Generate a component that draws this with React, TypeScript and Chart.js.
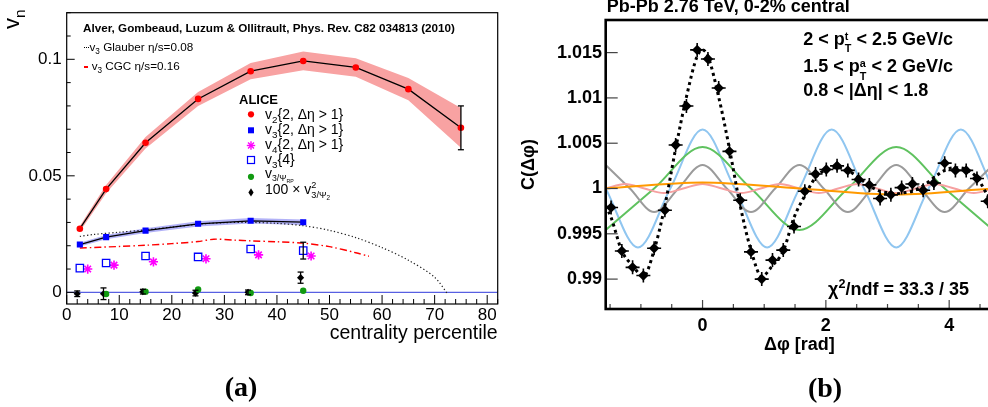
import React, { useEffect, useRef } from 'react';
import { Chart, registerables } from 'chart.js';

Chart.register(...registerables);

const SANS = "'Liberation Sans', Arial, Helvetica, sans-serif";
const SERIF = "'Liberation Serif', 'Times New Roman', Times, serif";

// ---------------- Panel (a): flow coefficients vs centrality ----------------
const v2Cent = [2.5, 7.5, 15, 25, 35, 45, 55, 65, 75];
const v2Val = [0.0273, 0.0443, 0.0642, 0.083, 0.0949, 0.0993, 0.0965, 0.0872, 0.0706];
const v2Sys = [0.0012, 0.0018, 0.0025, 0.003, 0.0035, 0.004, 0.004, 0.0048, 0.0085];
const v2Stat = [0, 0, 0, 0, 0, 0, 0, 0, 0.0094];

const v3Cent = [2.5, 7.5, 15, 25, 35, 45];
const v3Val = [0.0205, 0.0237, 0.0265, 0.0294, 0.0307, 0.0301];
const v3Sys = [0.0008, 0.0009, 0.001, 0.0011, 0.0012, 0.0012];

const v3c4Val = [0.0104, 0.0126, 0.0156, 0.0152, 0.0186, 0.0179];
const v3c4Stat = [0, 0, 0, 0, 0, 0.0036];

const v4Cent = [4, 9, 16.5, 26.5, 36.5, 46.5];
const v4Val = [0.01, 0.0117, 0.0131, 0.0144, 0.0161, 0.0156];

const v3RPCent = [7.5, 15, 25, 35, 45];
const v3RPVal = [-0.0007, 0.0003, 0.0012, -0.0003, 0.0007];

const v3PsiCent = [2, 7, 14.5, 24.5, 34.5, 44.5];
const v3PsiVal = [-0.0006, -0.0006, 0.0003, -0.0003, 0.0, 0.0063];
const v3PsiStat = [0.0012, 0.0025, 0.001, 0.0012, 0.001, 0.0024];

const glauberCent = [2.5, 5, 10, 15, 20, 25, 30, 35, 40, 45, 50, 55, 60, 65, 70, 72.5];
const glauberVal = [0.024, 0.0248, 0.0258, 0.0268, 0.028, 0.0292, 0.0299, 0.03, 0.0296, 0.0286, 0.0266, 0.0235, 0.0192, 0.0138, 0.0065, -0.0008];

const cgcCent = [2.5, 10, 15, 20, 25, 28, 32, 35, 40, 45, 50, 55, 57.5];
const cgcVal = [0.019, 0.0197, 0.0202, 0.0209, 0.0218, 0.0228, 0.0224, 0.0221, 0.0217, 0.0211, 0.0196, 0.017, 0.0155];

const leftXRange = [0, 82];
const leftYRange = [-0.005, 0.12];
const leftXTicks = [0, 10, 20, 30, 40, 50, 60, 70, 80];
const leftXTickLabels = ['0', '10', '20', '30', '40', '50', '60', '70', '80'];
const leftYTicks = [0, 0.05, 0.1];
const leftYTickLabels = ['0', '0.05', '0.1'];

// ---------------- Panel (b): two-particle correlation ----------------
const dphi = [-1.4835, -1.309, -1.1345, -0.9599, -0.7854, -0.6109, -0.4363, -0.2618, -0.0873, 0.0873, 0.2618, 0.4363, 0.6109, 0.7854, 0.9599, 1.1345, 1.309, 1.4835, 1.6581, 1.8326, 2.0071, 2.1817, 2.3562, 2.5307, 2.7053, 2.8798, 3.0543, 3.2289, 3.4034, 3.5779, 3.7525, 3.927, 4.1015, 4.2761, 4.4506, 4.6251];
const corr = [0.9979, 0.9931, 0.9913, 0.9904, 0.9934, 0.9976, 1.0048, 1.0091, 1.0153, 1.0143, 1.0111, 1.0041, 0.9987, 0.993, 0.99, 0.9921, 0.9932, 0.9958, 0.9997, 1.0016, 1.0021, 1.0025, 1.002, 1.001, 1.0004, 0.9989, 0.9993, 1.0001, 1.0005, 0.9998, 1.0006, 1.0028, 1.002, 1.002, 1.0011, 0.9986];

const fitX = [-1.5708, -1.4835, -1.309, -1.1345, -0.9599, -0.7854, -0.6109, -0.4363, -0.2618, -0.0873, 0, 0.0873, 0.2618, 0.4363, 0.6109, 0.7854, 0.9599, 1.1345, 1.309, 1.4835, 1.6581, 1.8326, 2.0071, 2.1817, 2.3562, 2.5307, 2.7053, 2.8798, 3.0543, 3.1416, 3.2289, 3.4034, 3.5779, 3.7525, 3.927, 4.1015, 4.2761, 4.4506, 4.6251, 4.7124];
const fitY = [0.9981, 0.9968, 0.9931, 0.9915, 0.9903, 0.9932, 0.9981, 1.0044, 1.0101, 1.0146, 1.0153, 1.0146, 1.0101, 1.0044, 0.9981, 0.9932, 0.9903, 0.9915, 0.9931, 0.9968, 0.9992, 1.0012, 1.0021, 1.0023, 1.002, 1.0012, 1.0003, 0.9997, 0.9995, 0.9994, 0.9995, 0.9997, 1.0003, 1.0012, 1.002, 1.0023, 1.0021, 1.0012, 0.9992, 0.9981];

// Fourier components, read at their maxima / zero crossings / minima
const h1X = [-1.5708, 0, 1.5708, 3.1416, 4.7124];
const h1Y = [1, 1.00066, 1, 0.99934, 1];
const h2X = [-1.5708, -0.7854, 0, 0.7854, 1.5708, 2.3562, 3.1416, 3.927, 4.7124];
const h2Y = [0.99543, 1, 1.00457, 1, 0.99543, 1, 1.00457, 1, 0.99543];
const h3X = [-1.5708, -1.0472, -0.5236, 0, 0.5236, 1.0472, 1.5708, 2.0944, 2.618, 3.1416, 3.6652, 4.1888, 4.7124];
const h3Y = [1, 0.9935, 1, 1.0065, 1, 0.9935, 1, 1.0065, 1, 0.9935, 1, 1.0065, 1];
const h4X = [-1.5708, -1.1781, -0.7854, -0.3927, 0, 0.3927, 0.7854, 1.1781, 1.5708, 1.9635, 2.3562, 2.7489, 3.1416, 3.5343, 3.927, 4.3197, 4.7124];
const h4Y = [1.0026, 1, 0.9974, 1, 1.0026, 1, 0.9974, 1, 1.0026, 1, 0.9974, 1, 1.0026, 1, 0.9974, 1, 1.0026];
const h5X = [-1.5708, -1.2566, -0.9425, -0.6283, -0.3142, 0, 0.3142, 0.6283, 0.9425, 1.2566, 1.5708, 1.885, 2.1991, 2.5133, 2.8274, 3.1416, 3.4558, 3.7699, 4.0841, 4.3982, 4.7124];
const h5Y = [1, 1.0005, 1, 0.9995, 1, 1.0005, 1, 0.9995, 1, 1.0005, 1, 0.9995, 1, 1.0005, 1, 0.9995, 1, 1.0005, 1, 0.9995, 1];

const rightXRange = [-1.5708, 4.7124];
const rightYRange = [0.9867, 1.0186];
const rightXTicks = [0, 2, 4];
const rightXTickLabels = ['0', '2', '4'];
const rightYTicks = [0.99, 0.995, 1, 1.005, 1.01, 1.015];
const rightYTickLabels = ['0.99', '0.995', '1', '1.005', '1.01', '1.015'];

// ---------------- helpers ----------------
const pts = (xs: number[], ys: number[]) => xs.map((x, i) => ({ x, y: ys[i] }));

function fixedAxis(size: number, horizontal: boolean) {
  return (s: any) => {
    if (horizontal) s.height = size;
    else s.width = size;
    s.paddingLeft = 0;
    s.paddingRight = 0;
    s.paddingTop = 0;
    s.paddingBottom = 0;
  };
}

function line(ctx: CanvasRenderingContext2D, x1: number, y1: number, x2: number, y2: number) {
  ctx.beginPath();
  ctx.moveTo(x1, y1);
  ctx.lineTo(x2, y2);
  ctx.stroke();
}

const errorBarPlugin = {
  id: 'errorBars',
  afterDatasetsDraw(chart: any) {
    const ctx = chart.ctx as CanvasRenderingContext2D;
    const ys = chart.scales.y;
    chart.data.datasets.forEach((ds: any, di: number) => {
      if (!ds.errorBars) return;
      const meta = chart.getDatasetMeta(di);
      ds.data.forEach((p: any, i: number) => {
        const e = ds.errorBars[i];
        if (!e) return;
        const x = meta.data[i].x;
        const y1 = ys.getPixelForValue(p.y - e);
        const y2 = ys.getPixelForValue(p.y + e);
        ctx.save();
        ctx.strokeStyle = '#000';
        ctx.lineWidth = 1.3;
        line(ctx, x, y1, x, y2);
        line(ctx, x - 3, y1, x + 3, y1);
        line(ctx, x - 3, y2, x + 3, y2);
        ctx.restore();
      });
    });
  },
};

function drawMarker(ctx: CanvasRenderingContext2D, kind: string, x: number, y: number) {
  ctx.save();
  if (kind === 'dotRed' || kind === 'dotGreen') {
    ctx.fillStyle = kind === 'dotRed' ? '#ff0000' : '#119a11';
    ctx.beginPath();
    ctx.arc(x, y, 3.1, 0, Math.PI * 2);
    ctx.fill();
  } else if (kind === 'sqBlue') {
    ctx.fillStyle = '#0000ff';
    ctx.fillRect(x - 3, y - 3, 6, 6);
  } else if (kind === 'sqOpen') {
    ctx.strokeStyle = '#0000ff';
    ctx.lineWidth = 1.2;
    ctx.strokeRect(x - 3.5, y - 3.5, 7, 7);
  } else if (kind === 'star') {
    ctx.strokeStyle = '#ff00ff';
    ctx.lineWidth = 1.4;
    const r = 4.2;
    const d = r * Math.SQRT1_2;
    line(ctx, x - r, y, x + r, y);
    line(ctx, x, y - r, x, y + r);
    line(ctx, x - d, y - d, x + d, y + d);
    line(ctx, x - d, y + d, x + d, y - d);
  } else if (kind === 'diamond') {
    ctx.fillStyle = '#000';
    ctx.beginPath();
    ctx.moveTo(x, y - 4.2);
    ctx.lineTo(x + 2.6, y);
    ctx.lineTo(x, y + 4.2);
    ctx.lineTo(x - 2.6, y);
    ctx.closePath();
    ctx.fill();
  }
  ctx.restore();
}

const leftDeco = {
  id: 'leftDeco',
  afterDraw(chart: any) {
    const ctx = chart.ctx as CanvasRenderingContext2D;
    const { left, right, top, bottom } = chart.chartArea;
    const x = chart.scales.x;
    const y = chart.scales.y;
    ctx.save();
    ctx.strokeStyle = '#000';
    ctx.lineWidth = 1;
    for (let v = 0; v <= 82; v += 2) {
      const px = x.getPixelForValue(v);
      const len = v % 10 === 0 ? 9 : 5;
      line(ctx, px, bottom, px, bottom - len);
    }
    for (let k = 0; k <= 12; k++) {
      const v = k / 100;
      const py = y.getPixelForValue(v);
      const len = k % 5 === 0 ? 8 : 4;
      line(ctx, left, py, left + len, py);
    }
    ctx.lineWidth = 1.2;
    ctx.strokeRect(left, top, right - left, bottom - top);
    ctx.restore();
    const legendMarkers: [string, number][] = [
      ['dotRed', 114.3],
      ['sqBlue', 130.3],
      ['star', 145.5],
      ['sqOpen', 160],
      ['dotGreen', 176.8],
      ['diamond', 192.4],
    ];
    legendMarkers.forEach(([k, yy]) => drawMarker(ctx, k, 251, yy));
  },
};

const rightDeco = {
  id: 'rightDeco',
  afterDraw(chart: any) {
    const ctx = chart.ctx as CanvasRenderingContext2D;
    const { left, right, top, bottom } = chart.chartArea;
    const x = chart.scales.x;
    const y = chart.scales.y;
    ctx.save();
    ctx.strokeStyle = '#444';
    ctx.lineWidth = 1.2;
    rightYTicks.forEach((v) => {
      const py = y.getPixelForValue(v);
      line(ctx, left, py, left + 12, py);
    });
    for (let k = -3; k <= 9; k++) {
      const v = k / 2;
      const px = x.getPixelForValue(v);
      const len = k % 4 === 0 ? 9 : 5;
      line(ctx, px, bottom, px, bottom - len);
    }
    ctx.strokeStyle = '#000';
    ctx.lineWidth = 2.6;
    ctx.strokeRect(left, top, right - left, bottom - top);
    ctx.restore();
  },
};

function buildLeft(): any {
  const hiV2 = v2Val.map((v, i) => v + v2Sys[i]);
  const loV2 = v2Val.map((v, i) => v - v2Sys[i]);
  const hiV3 = v3Val.map((v, i) => v + v3Sys[i]);
  const loV3 = v3Val.map((v, i) => v - v3Sys[i]);
  const tickFont = { family: SANS, size: 17 };
  return {
    type: 'line',
    data: {
      datasets: [
        { label: 'zero', data: pts(leftXRange, [0, 0]), borderColor: 'rgb(88,96,226)', borderWidth: 1.4, pointRadius: 0, order: 20 },
        { label: 'v2 sys hi', data: pts(v2Cent, hiV2), borderColor: 'transparent', borderWidth: 0, pointRadius: 0, fill: false, order: 15 },
        { label: 'v2 sys lo', data: pts(v2Cent, loV2), borderColor: 'transparent', borderWidth: 0, pointRadius: 0, fill: '-1', backgroundColor: '#f8a2a2', order: 15 },
        { label: 'v3 sys hi', data: pts(v3Cent, hiV3), borderColor: 'transparent', borderWidth: 0, pointRadius: 0, fill: false, order: 15 },
        { label: 'v3 sys lo', data: pts(v3Cent, loV3), borderColor: 'transparent', borderWidth: 0, pointRadius: 0, fill: '-1', backgroundColor: 'rgba(115,115,240,0.55)', order: 15 },
        { label: 'Glauber', data: pts(glauberCent, glauberVal), borderColor: '#222', borderWidth: 1.2, borderDash: [1.3, 2.3], pointRadius: 0, tension: 0.3, order: 8 },
        { label: 'CGC', data: pts(cgcCent, cgcVal), borderColor: '#ff0000', borderWidth: 1.4, borderDash: [7, 3, 1.5, 3], pointRadius: 0, tension: 0.3, order: 8 },
        { label: 'v2{2}', data: pts(v2Cent, v2Val), borderColor: '#000', borderWidth: 1.3, pointStyle: 'circle', pointRadius: 3.3, pointBackgroundColor: '#ff0000', pointBorderColor: '#ff0000', pointBorderWidth: 0, errorBars: v2Stat, order: 3 },
        { label: 'v3{2}', data: pts(v3Cent, v3Val), borderColor: '#000', borderWidth: 1.3, pointStyle: 'rect', pointRadius: 4.3, pointBackgroundColor: '#0000ff', pointBorderColor: '#0000ff', pointBorderWidth: 0, order: 3 },
        { label: 'v3{4}', data: pts(v3Cent, v3c4Val), showLine: false, pointStyle: 'rect', pointRadius: 5.2, pointBackgroundColor: '#ffffff', pointBorderColor: '#0000ff', pointBorderWidth: 1.3, errorBars: v3c4Stat, order: 2 },
        { label: 'v4{2}', data: pts(v4Cent, v4Val), showLine: false, pointStyle: 'star', pointRadius: 4.6, pointBorderColor: '#ff00ff', pointBackgroundColor: '#ff00ff', pointBorderWidth: 1.6, order: 2 },
        { label: 'v3/PsiRP', data: pts(v3RPCent, v3RPVal), showLine: false, pointStyle: 'circle', pointRadius: 3.2, pointBackgroundColor: '#119a11', pointBorderColor: '#119a11', pointBorderWidth: 0, order: 2 },
        { label: '100 v3^2', data: pts(v3PsiCent, v3PsiVal), showLine: false, pointStyle: 'rectRot', pointRadius: 3.6, pointBackgroundColor: '#000', pointBorderColor: '#000', pointBorderWidth: 0, errorBars: v3PsiStat, order: 2 },
      ],
    },
    options: {
      animation: false,
      responsive: false,
      devicePixelRatio: 1,
      events: [],
      layout: { padding: { left: 0, top: 12.7, right: 12.3, bottom: 0 } },
      plugins: { legend: { display: false }, tooltip: { enabled: false } },
      scales: {
        x: {
          type: 'linear',
          min: leftXRange[0],
          max: leftXRange[1],
          bounds: 'data',
          grid: { display: false, drawTicks: false },
          border: { display: false },
          afterBuildTicks: (s: any) => { s.ticks = leftXTicks.map((v) => ({ value: v })); },
          afterFit: fixedAxis(103, true),
          ticks: { autoSkip: false, maxRotation: 0, padding: 1.6, color: '#000', font: tickFont, callback: (_v: any, i: number) => leftXTickLabels[i] },
          title: { display: true, text: 'centrality percentile', align: 'end', color: '#000', font: { family: SANS, size: 19.5 }, padding: { top: 0, bottom: 61.6 } },
        },
        y: {
          type: 'linear',
          min: leftYRange[0],
          max: leftYRange[1],
          bounds: 'data',
          grid: { display: false, drawTicks: false },
          border: { display: false },
          afterBuildTicks: (s: any) => { s.ticks = leftYTicks.map((v) => ({ value: v })); },
          afterFit: fixedAxis(66.7, false),
          ticks: { autoSkip: false, padding: 5, color: '#000', font: tickFont, callback: (_v: any, i: number) => leftYTickLabels[i] },
        },
      },
    },
    plugins: [errorBarPlugin, leftDeco],
  };
}

function buildRight(): any {
  const bold = { family: SANS, size: 18, weight: 'bold' };
  const harm = (label: string, xs: number[], ys: number[], color: string, order: number) => ({
    label, data: pts(xs, ys), borderColor: color, borderWidth: 2, pointRadius: 0, cubicInterpolationMode: 'monotone', order,
  });
  return {
    type: 'line',
    data: {
      datasets: [
        harm('n=3', h3X, h3Y, '#90c6f0', 9),
        harm('n=2', h2X, h2Y, '#5fc25f', 8),
        harm('n=4', h4X, h4Y, '#9b9b9b', 7),
        harm('n=5', h5X, h5Y, '#f6a0a0', 6),
        harm('n=1', h1X, h1Y, '#ff9a00', 5),
        { label: 'fit', data: pts(fitX, fitY), borderColor: '#000', borderWidth: 3, borderDash: [3, 3.5], pointRadius: 0, cubicInterpolationMode: 'monotone', order: 2 },
        { label: 'data arms', data: pts(dphi, corr), showLine: false, pointStyle: 'cross', pointRadius: 7, pointBorderColor: '#000', pointBorderWidth: 1.6, order: 1 },
        { label: 'data', data: pts(dphi, corr), showLine: false, pointStyle: 'rectRot', pointRadius: 5.2, pointBackgroundColor: '#000', pointBorderColor: '#000', pointBorderWidth: 0, order: 0 },
      ],
    },
    options: {
      animation: false,
      responsive: false,
      devicePixelRatio: 1,
      events: [],
      layout: { padding: { left: 0, top: 20, right: 26.9, bottom: 0 } },
      plugins: { legend: { display: false }, tooltip: { enabled: false } },
      scales: {
        x: {
          type: 'linear',
          min: rightXRange[0],
          max: rightXRange[1],
          bounds: 'data',
          grid: { display: false, drawTicks: false },
          border: { display: false },
          afterBuildTicks: (s: any) => { s.ticks = rightXTicks.map((v) => ({ value: v })); },
          afterFit: fixedAxis(98, true),
          ticks: { autoSkip: false, maxRotation: 0, padding: 6.7, color: '#000', font: bold, callback: (_v: any, i: number) => rightXTickLabels[i] },
          title: { display: true, text: 'Δφ [rad]', color: '#000', font: bold, padding: { top: 0, bottom: 50.7 } },
        },
        y: {
          type: 'linear',
          min: rightYRange[0],
          max: rightYRange[1],
          bounds: 'data',
          grid: { display: false, drawTicks: false },
          border: { display: false },
          afterBuildTicks: (s: any) => { s.ticks = rightYTicks.map((v) => ({ value: v })); },
          afterFit: fixedAxis(95.7, false),
          ticks: { autoSkip: false, padding: 3.7, color: '#000', font: bold, callback: (_v: any, i: number) => rightYTickLabels[i] },
          title: { display: true, text: 'C(Δφ)', color: '#000', font: bold, padding: { top: 8.2, bottom: 0 } },
        },
      },
    },
    plugins: [rightDeco],
  };
}

// ---------------- text helpers (HTML overlays) ----------------
function Txt(props: { x: number; base: number; size: number; bold?: boolean; serif?: boolean; color?: string; anchor?: string; children?: any }) {
  const k = props.serif ? 0.8375 : 0.8465;
  const tr = props.anchor === 'center' ? 'translateX(-50%)' : props.anchor === 'right' ? 'translateX(-100%)' : undefined;
  return (
    <div
      style={{
        position: 'absolute',
        left: props.x,
        top: props.base - k * props.size,
        fontSize: props.size,
        lineHeight: `${props.size}px`,
        fontFamily: props.serif ? SERIF : SANS,
        fontWeight: props.bold ? 700 : 400,
        color: props.color || '#000',
        whiteSpace: 'nowrap',
        transform: tr,
      }}
    >
      {props.children}
    </div>
  );
}

function Sub(props: { children?: any; scale?: number; shift?: number }) {
  const s = props.scale ?? 0.7;
  const d = props.shift ?? 0.25;
  return <span style={{ fontSize: `${s}em`, verticalAlign: `${-d / s}em`, lineHeight: 0 }}>{props.children}</span>;
}

function Sup(props: { children?: any; scale?: number; shift?: number }) {
  const s = props.scale ?? 0.7;
  const d = props.shift ?? 0.4;
  return <span style={{ fontSize: `${s}em`, verticalAlign: `${d / s}em`, lineHeight: 0 }}>{props.children}</span>;
}

function Stack(props: { sup: any; sub: any; scale?: number; subShift?: number; supShift?: number }) {
  const s = props.scale ?? 0.7;
  const sb = props.subShift ?? 0.25;
  const sp = props.supShift ?? 0.4;
  const D = (sb + sp) / s;
  return (
    <span style={{ position: 'relative', fontSize: `${s}em`, verticalAlign: `${-sb / s}em`, lineHeight: 0 }}>
      {props.sub}
      <span style={{ position: 'absolute', left: 0, top: `${0.5585 - D}em`, lineHeight: 0, whiteSpace: 'nowrap' }}>{props.sup}</span>
    </span>
  );
}

export default function App() {
  const aRef = useRef<HTMLCanvasElement | null>(null);
  const bRef = useRef<HTMLCanvasElement | null>(null);

  useEffect(() => {
    const ca = new Chart(aRef.current as HTMLCanvasElement, buildLeft());
    const cb = new Chart(bRef.current as HTMLCanvasElement, buildRight());
    return () => {
      ca.destroy();
      cb.destroy();
    };
  }, []);

  const legendSize = 14;
  return (
    <div style={{ position: 'absolute', left: 0, top: 0, width: 988, height: 407, overflow: 'hidden', background: '#fff' }}>
      <canvas ref={aRef} width={510} height={407} style={{ position: 'absolute', left: 0, top: 0, width: 510, height: 407 }} />
      <canvas ref={bRef} width={510} height={407} style={{ position: 'absolute', left: 510, top: 0, width: 510, height: 407 }} />

      {/* panel (a) texts */}
      <div
        style={{
          position: 'absolute', left: 1.4, top: 29, transform: 'rotate(-90deg)', transformOrigin: '0 0',
          fontFamily: SANS, fontSize: 22, lineHeight: '22px', whiteSpace: 'nowrap', color: '#000',
        }}
      >
        v<Sub>n</Sub>
      </div>
      <Txt x={83} base={32.3} size={11.7} bold>Alver, Gombeaud, Luzum &amp; Ollitrault, Phys. Rev. C82 034813 (2010)</Txt>
      <Txt x={83.5} base={50.7} size={11.7}>
        <span style={{ display: 'inline-block', width: 5, height: 0, borderTop: '1px dotted #000', verticalAlign: '0.2em', marginRight: 1 }} />
        v<Sub>3</Sub> Glauber η/s=0.08
      </Txt>
      <Txt x={84.3} base={70} size={11.7}>
        <span style={{ display: 'inline-block', width: 4, height: 1.5, background: '#ff0000', verticalAlign: '0.22em', marginRight: 3.4 }} />
        v<Sub>3</Sub> CGC η/s=0.16
      </Txt>
      <Txt x={239} base={104.3} size={13} bold>ALICE</Txt>
      <Txt x={265} base={119} size={legendSize}>v<Sub>2</Sub>{'{2, Δη > 1}'}</Txt>
      <Txt x={265} base={134} size={legendSize}>v<Sub>3</Sub>{'{2, Δη > 1}'}</Txt>
      <Txt x={265} base={149.3} size={legendSize}>v<Sub>4</Sub>{'{2, Δη > 1}'}</Txt>
      <Txt x={265} base={164} size={legendSize}>v<Sub>3</Sub>{'{4}'}</Txt>
      <Txt x={265} base={178.3} size={legendSize}>v<Sub scale={0.62} shift={0.2}>3/Ψ<Sub scale={0.6} shift={0.25}>RP</Sub></Sub></Txt>
      <Txt x={265} base={194} size={legendSize}>
        100 × v<Stack sup="2" sub={<>3/Ψ<Sub scale={0.7} shift={0.25}>2</Sub></>} scale={0.65} subShift={0.3} supShift={0.42} />
      </Txt>

      {/* panel (b) texts */}
      <Txt x={606.7} base={12.5} size={18} bold>Pb-Pb 2.76 TeV, 0-2% central</Txt>
      <Txt x={803.3} base={45.5} size={18} bold>
        2 &lt; p<Stack sup="t" sub="T" scale={0.6} subShift={0.4} supShift={0.3} /> &lt; 2.5 GeV/c
      </Txt>
      <Txt x={803.3} base={72.7} size={18} bold>
        1.5 &lt; p<Stack sup="a" sub="T" scale={0.6} subShift={0.4} supShift={0.3} /> &lt; 2 GeV/c
      </Txt>
      <Txt x={803.3} base={96.7} size={18} bold>0.8 &lt; |Δη| &lt; 1.8</Txt>
      <Txt x={828} base={295} size={18} bold>
        χ<Sup scale={0.7} shift={0.4}>2</Sup>/ndf = 33.3 / 35
      </Txt>

      {/* sub-figure labels */}
      <Txt x={241} base={396} size={28} bold serif anchor="center">(a)</Txt>
      <Txt x={825} base={397} size={28} bold serif anchor="center">(b)</Txt>
    </div>
  );
}
